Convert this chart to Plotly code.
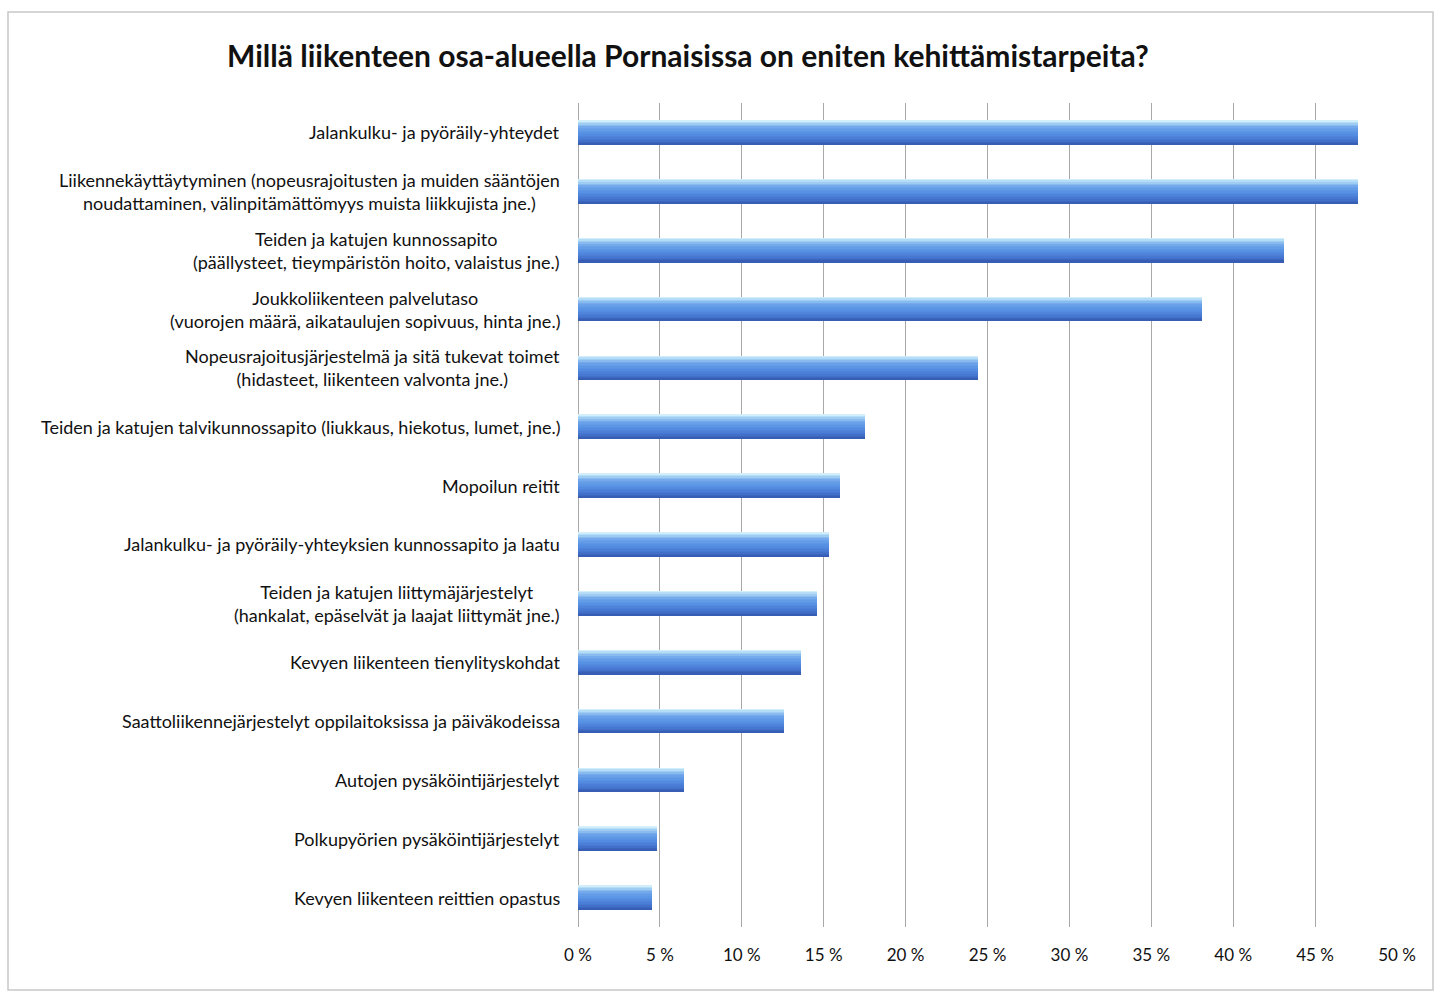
import plotly.graph_objects as go

categories = [
    "Jalankulku- ja pyöräily-yhteydet",
    "Liikennekäyttäytyminen (nopeusrajoitusten ja muiden sääntöjen<br>noudattaminen, välinpitämättömyys muista liikkujista jne.)",
    "Teiden ja katujen kunnossapito<br>(päällysteet, tieympäristön hoito, valaistus jne.)",
    "Joukkoliikenteen palvelutaso<br>(vuorojen määrä, aikataulujen sopivuus, hinta jne.)",
    "Nopeusrajoitusjärjestelmä ja sitä tukevat toimet<br>(hidasteet, liikenteen valvonta jne.)",
    "Teiden ja katujen talvikunnossapito (liukkaus, hiekotus, lumet, jne.)",
    "Mopoilun reitit",
    "Jalankulku- ja pyöräily-yhteyksien kunnossapito ja laatu",
    "Teiden ja katujen liittymäjärjestelyt<br>(hankalat, epäselvät ja laajat liittymät jne.)",
    "Kevyen liikenteen tienylityskohdat",
    "Saattoliikennejärjestelyt oppilaitoksissa ja päiväkodeissa",
    "Autojen pysäköintijärjestelyt",
    "Polkupyörien pysäköintijärjestelyt",
    "Kevyen liikenteen reittien opastus",
]
values = [47.6, 47.6, 43.1, 38.1, 24.4, 17.5, 16.0, 15.3, 14.6, 13.6, 12.6, 6.5, 4.8, 4.5]
tick_values = [0, 5, 10, 15, 20, 25, 30, 35, 40, 45, 50]
tick_labels = ["0 %", "5 %", "10 %", "15 %", "20 %", "25 %", "30 %", "35 %", "40 %", "45 %", "50 %"]

W, H = 1437, 996
L, R, T, B = 578, 40, 103, 69
pw = W - L - R
ph = H - T - B
FONT = "Lato, Open Sans, sans-serif"

fig = go.Figure()

# colour stops of the shaded bar, top -> bottom (position within bar, rgb)
stops = [
    (0.00, (224, 247, 252)),
    (0.12, (170, 214, 245)),
    (0.30, (110, 165, 234)),
    (0.55, (85, 143, 226)),
    (0.80, (70, 118, 208)),
    (1.00, (52, 90, 175)),
]


def colour_at(t):
    for (p0, c0), (p1, c1) in zip(stops[:-1], stops[1:]):
        if p0 <= t <= p1:
            f = (t - p0) / (p1 - p0)
            c = [round(a + (b - a) * f) for a, b in zip(c0, c1)]
            return "rgb(%d,%d,%d)" % tuple(c)
    return "rgb(%d,%d,%d)" % stops[-1][1]


BAR_W = 0.42
N = 16
sw = BAR_W / N
for i in range(N):
    t = (i + 0.5) / N
    start = -BAR_W / 2 + i * sw
    fig.add_trace(go.Bar(
        x=values, y=categories, orientation="h",
        offset=start, width=BAR_W / 2 - start,
        marker=dict(color=colour_at(t), line=dict(width=0)),
        hoverinfo="x+y", showlegend=False,
    ))

for c in categories:
    fig.add_annotation(
        x=0, xref="paper", y=c, yref="y",
        text=c, showarrow=False, xanchor="right", yanchor="middle",
        align="center", xshift=-16,
        font=dict(family=FONT, size=18, color="#111111"),
    )

# outer border
fig.add_shape(
    type="rect", xref="paper", yref="paper",
    x0=(8 - L) / pw, x1=(1433 - L) / pw,
    y0=(H - B - 990) / ph, y1=(H - B - 12) / ph,
    line=dict(color="#c8c8c8", width=1.5), fillcolor="rgba(0,0,0,0)",
)

fig.update_layout(
    width=W, height=H,
    margin=dict(l=L, r=R, t=T, b=B),
    paper_bgcolor="white", plot_bgcolor="white",
    barmode="overlay", bargap=0,
    title=dict(
        text="<b>Millä liikenteen osa-alueella Pornaisissa on eniten kehittämistarpeita?</b>",
        x=688 / W, xanchor="center", y=1 - 56 / H, yanchor="middle",
        font=dict(family=FONT, size=30, color="#111111"),
    ),
    xaxis=dict(
        range=[0, 50], tickvals=tick_values, ticktext=tick_labels,
        showgrid=True, gridcolor="#a8a8a8", gridwidth=1,
        zeroline=True, zerolinecolor="#a8a8a8", zerolinewidth=1,
        showline=False, ticks="", ticklabelstandoff=16,
        tickfont=dict(family=FONT, size=17, color="#111111"),
        fixedrange=True,
    ),
    yaxis=dict(
        autorange="reversed", showticklabels=False, showgrid=False,
        zeroline=False, showline=False, ticks="",
    ),
)

fig.write_html("out.html")
